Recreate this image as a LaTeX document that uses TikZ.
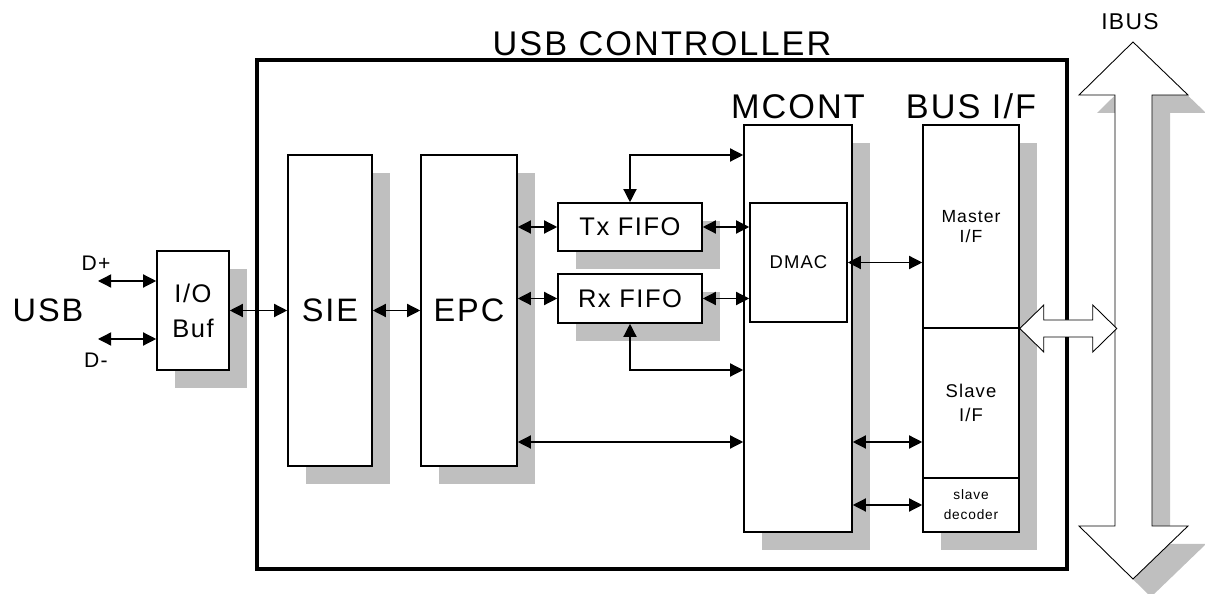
\documentclass[tikz,border=0pt]{standalone}
\usepackage{fontspec}
\setmainfont{Liberation Sans}[LetterSpace=6]
\usetikzlibrary{positioning, arrows.meta, shadows}

\begin{document}
\begin{tikzpicture}[
    x=0.02cm, y=-0.02cm,
    >={Triangle[length=7.5pt, width=7.5pt]},
    shad/.style={drop shadow={shadow xshift=0.36cm, shadow yshift=-0.36cm,
                              opacity=1, fill=black!25}},
    blk/.style={draw, fill=white, line width=0.9pt, inner sep=0pt,
                align=center, shad},
    part/.style={draw, fill=white, line width=0.9pt, inner sep=0pt,
                 align=center},
    arr/.style={<->, line width=0.75pt},
    hollow/.style={draw, fill=white, line width=0.5pt, line join=miter},
    ttl/.style={inner sep=0pt, font=\fontsize{19.5}{22}\selectfont},
    bigtxt/.style={font=\fontsize{18.5}{22}\selectfont},
    midtxt/.style={font=\fontsize{14.5}{20}\selectfont},
    smalltxt/.style={font=\fontsize{10.5}{14}\selectfont},
    tinytxt/.style={font=\fontsize{10}{11.5}\selectfont},
    microtxt/.style={font=\fontsize{7.8}{11.3}\selectfont}
]
\useasboundingbox (0,0) rectangle (1205,594);

\def\ylow{442}

% controller frame
\node[draw, line width=2.2pt, minimum width=16.2cm, minimum height=10.18cm]
  (ctrl) at (662,314.5) {};
\node[ttl, above=1pt of ctrl] (ctrltitle) {USB CONTROLLER};

% IBUS
\draw[hollow, shad] (1133,42) -- (1188,95) -- (1152,95) -- (1152,526)
  -- (1188,526) -- (1133,579) -- (1079,526) -- (1115,526) -- (1115,95)
  -- (1079,95) -- cycle;
\node[font=\fontsize{13}{15}\selectfont] (ibuslbl) at (1130,22) {IBUS};

% USB side
\node[bigtxt] (usb) at (48,310) {USB};
\node[font=\fontsize{12}{14}\selectfont] (dplus) at (96,263) {D+};
\node[font=\fontsize{12}{14}\selectfont] (dminus) at (96,360) {D-};
\coordinate (dpin) at (98,281);
\coordinate (dmin) at (98,339);

\node[blk, midtxt, minimum width=1.44cm, minimum height=2.38cm]
  (iobuf) at (193,310.5) {I/O\\Buf};
\node[blk, bigtxt, minimum width=1.68cm, minimum height=6.22cm]
  (sie) at (330,310.5) {SIE};
\node[blk, bigtxt, minimum width=1.92cm, minimum height=6.22cm]
  (epc) at (469,310.5) {EPC};

\node[blk, midtxt, minimum width=2.88cm, minimum height=0.96cm]
  (txfifo) at (630,227) {Tx FIFO};
\node[blk, midtxt, minimum width=2.88cm, minimum height=0.98cm]
  (rxfifo) at (630,298.5) {Rx FIFO};

\node[blk, minimum width=2.16cm, minimum height=8.14cm]
  (mcont) at (798,328.5) {};
\node[ttl, above=3pt of mcont] (mcontlbl) {MCONT};
\node[part, smalltxt, minimum width=1.94cm, minimum height=2.38cm]
  (dmac) at (798.5,262.5) {DMAC};

\node[blk, minimum width=1.92cm, minimum height=8.14cm]
  (busif) at (971,328.5) {};
\node[ttl, above=3pt of busif] (busiflbl) {BUS I/F};
\node[part, tinytxt, minimum width=1.92cm, minimum height=4.06cm]
  (master) at (971,226.5) {Master\\I/F};
\node[part, smalltxt, minimum width=1.92cm, minimum height=3.0cm]
  (slave) at (971,403) {Slave\\I/F};
\node[part, microtxt, minimum width=1.92cm, minimum height=1.08cm]
  (decoder) at (971,505) {slave\\decoder};

% connectors
\coordinate (txtop) at (630,155);
\coordinate (rxlow) at (630,370);

\draw[arr] (dpin) -- (dpin -| iobuf.west);
\draw[arr] (dmin) -- (dmin -| iobuf.west);
\draw[arr] (iobuf.east) -- (sie.west);
\draw[arr] (sie.east) -- (epc.west);
\draw[arr] (epc.east |- txfifo) -- (txfifo.west);
\draw[arr] (epc.east |- rxfifo) -- (rxfifo.west);
\draw[arr] (txfifo.east) -- (txfifo.east -| dmac.west);
\draw[arr] (rxfifo.east) -- (rxfifo.east -| dmac.west);
\draw[arr] (txfifo.north) |- (txtop -| mcont.west);
\draw[arr] (rxfifo.south) |- (rxlow -| mcont.west);
\draw[arr] (epc.east |- 0,\ylow) -- (mcont.west |- 0,\ylow);
\draw[arr] (dmac.east) -- (dmac.east -| master.west);
\draw[arr] (mcont.east |- 0,\ylow) -- (slave.west |- 0,\ylow);
\draw[arr] (mcont.east |- decoder) -- (decoder.west);

% bus I/F to IBUS
\draw[hollow] (busif.east) -- ++(24,-23.5) -- ++(0,15) -- ++(49,0)
  -- ++(0,-15) -- ++(24,23.5) -- ++(-24,23.5) -- ++(0,-15) -- ++(-49,0)
  -- ++(0,15) -- cycle;

\end{tikzpicture}
\end{document}
